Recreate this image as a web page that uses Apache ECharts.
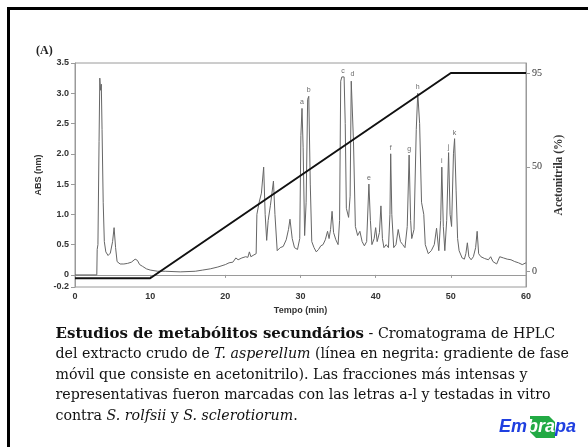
<!DOCTYPE html>
<html>
<head>
<meta charset="utf-8">
<script src="https://cdn.jsdelivr.net/npm/echarts@6/dist/echarts.min.js"></script>
<style>
html,body{margin:0;padding:0;background:#fff;}
#chart{width:588px;height:447px;}
</style>
</head>
<body>
<div id="chart"></div>
<script>
// Chromatogram trace (time in min, absorbance)
const timeMin = [0,2.9,2.95,3.05,3.2,3.3,3.4,3.5,3.6,3.75,3.9,4.1,4.4,4.7,5.0,5.2,5.4,5.6,6.0,6.5,7.0,7.5,8.0,8.3,8.6,9.0,9.5,10,11,12,14,16,17,18,19,20,20.5,21,21.4,21.7,22.2,22.7,23.0,23.2,23.4,23.8,24.1,24.2,24.5,24.8,25.1,25.3,25.5,25.7,26.0,26.4,26.6,26.9,27.3,27.7,28.1,28.4,28.6,28.9,29.2,29.6,29.9,30.05,30.2,30.35,30.55,30.75,30.95,31.1,31.3,31.5,31.8,32.1,32.4,32.7,33.0,33.3,33.6,33.8,34.0,34.2,34.4,34.7,35.0,35.2,35.35,35.5,35.8,35.95,36.1,36.4,36.6,36.75,36.9,37.05,37.3,37.6,37.9,38.2,38.5,38.8,39.1,39.3,39.5,39.8,40.0,40.2,40.5,40.7,40.9,41.1,41.4,41.7,41.9,42.0,42.15,42.4,42.7,43.0,43.3,43.6,43.9,44.2,44.45,44.65,44.8,45.1,45.4,45.6,45.85,46.1,46.4,46.6,47.0,47.4,47.8,48.1,48.4,48.65,48.8,49.0,49.2,49.45,49.7,49.9,50.1,50.35,50.5,50.7,50.9,51.1,51.5,51.8,52.0,52.2,52.4,52.7,53.0,53.3,53.5,53.7,54.0,54.5,55.0,55.3,55.6,56.1,56.5,57,57.5,58,58.5,59,59.5,60];
const absValues = [0,0,0.42,0.5,2.2,3.25,3.05,3.15,2.4,1.2,0.55,0.38,0.32,0.36,0.55,0.78,0.45,0.22,0.18,0.18,0.19,0.21,0.26,0.24,0.17,0.14,0.1,0.08,0.06,0.06,0.05,0.06,0.08,0.1,0.13,0.17,0.2,0.21,0.28,0.25,0.28,0.3,0.29,0.38,0.3,0.33,0.35,1.0,1.2,1.35,1.78,1.0,0.57,0.9,1.15,1.55,1.0,0.4,0.45,0.47,0.58,0.75,0.92,0.6,0.45,0.42,0.6,2.3,2.75,2.1,0.65,1.2,2.9,2.95,1.5,0.55,0.45,0.38,0.42,0.48,0.5,0.58,0.72,0.6,0.75,1.05,0.7,0.58,0.5,0.9,3.2,3.27,3.27,2.5,1.1,0.95,1.3,3.2,3.22,2.2,0.8,0.65,0.72,0.55,0.48,0.55,1.5,0.9,0.5,0.6,0.78,0.55,0.7,1.14,0.6,0.45,0.5,0.45,1.0,2.0,1.0,0.45,0.5,0.75,0.55,0.5,0.45,0.8,1.98,0.9,0.6,0.75,2.4,3.0,2.5,1.2,1.0,0.5,0.35,0.4,0.5,0.77,0.4,0.9,1.78,0.8,0.4,0.9,2.02,1.0,0.8,2.0,2.25,1.4,0.6,0.4,0.28,0.26,0.35,0.53,0.3,0.25,0.3,0.45,0.72,0.35,0.3,0.27,0.25,0.3,0.22,0.18,0.3,0.28,0.26,0.25,0.22,0.2,0.17,0.2];

// Acetonitrile gradient (time in min, %)
const gradientTime = [0,10,50,60];
const gradientPct = [-3.5,-3.5,95,95];

// Labelled fractions
const peakTime = [30.2,31.1,35.65,36.9,39.1,42.0,44.45,45.6,48.8,49.7,50.5];
const peakAbs = [2.75,2.95,3.27,3.22,1.5,2.0,1.98,3.0,1.78,2.02,2.25];
const peakLetters = ['a','b','c','d','e','f','g','h','i','j','k'];

// Tick values
const xTicks = [0,10,20,30,40,50,60];
const leftTicks = [-0.2,0,0.5,1.0,1.5,2.0,2.5,3.0,3.5];
const rightTicks = [0,50,95];

const traceData = timeMin.map((t,i)=>[t,absValues[i]]);
const gradData = gradientTime.map((t,i)=>[t,gradientPct[i]]);
const peakData = peakTime.map((t,i)=>[t,peakAbs[i]]);

const sansBold = {fontFamily:'Liberation Sans',fontWeight:'bold',fontSize:9,color:'#333'};
const serif = 'Liberation Serif';
const capFont = {fontFamily:'DejaVu Serif',fontSize:14.2,lineHeight:20.5,fill:'#111'};

const chart = echarts.init(document.getElementById('chart'),null,{renderer:'canvas'});
chart.setOption({
  animation:false,
  backgroundColor:'#fff',
  grid:{left:75,right:62,top:63,bottom:160,show:true,borderColor:'#9a9a9a',borderWidth:1},
  xAxis:{
    type:'value',min:0,max:60,interval:10,
    axisLine:{show:true,lineStyle:{color:'#9a9a9a',width:1}},
    axisTick:{show:true,length:3,lineStyle:{color:'#9a9a9a'}},
    splitLine:{show:false},
    axisLabel:Object.assign({margin:5,customValues:xTicks},sansBold),
    name:'Tempo (min)',nameLocation:'middle',nameGap:15,
    nameTextStyle:sansBold
  },
  yAxis:[{
    type:'value',min:-0.2,max:3.5,position:'left',
    axisLine:{show:true,lineStyle:{color:'#9a9a9a',width:1}},
    axisTick:{show:true,length:4,customValues:leftTicks,lineStyle:{color:'#9a9a9a'}},
    splitLine:{show:false},
    axisLabel:Object.assign({margin:6,customValues:leftTicks,
      formatter:v=>(Math.abs(v)<1e-9?'0':v.toFixed(1))},sansBold),
    name:'ABS (nm)',nameLocation:'middle',nameGap:26,nameRotate:90,
    nameTextStyle:sansBold
  },{
    type:'value',min:-7.7,max:99.8,position:'right',
    axisLine:{show:true,lineStyle:{color:'#9a9a9a',width:1}},
    axisTick:{show:true,length:4,customValues:rightTicks,lineStyle:{color:'#9a9a9a'}},
    splitLine:{show:false},
    axisLabel:{margin:6,customValues:rightTicks,fontFamily:serif,fontSize:10,color:'#333'},
    name:'Acetonitrila (%)',nameLocation:'middle',nameGap:24,nameRotate:90,
    nameTextStyle:{fontFamily:serif,fontWeight:'bold',fontSize:11.5,color:'#333'}
  }],
  series:[{
    type:'line',data:traceData,yAxisIndex:0,showSymbol:false,symbol:'none',
    lineStyle:{color:'#666',width:1},z:2
  },{
    type:'line',data:gradData,yAxisIndex:1,showSymbol:false,symbol:'none',
    lineStyle:{color:'#111',width:2},z:3
  },{
    type:'scatter',data:peakData,yAxisIndex:0,symbolSize:1,
    itemStyle:{color:'rgba(0,0,0,0)'},
    label:{show:true,position:'top',distance:2,fontSize:7,fontFamily:'Liberation Sans',color:'#444',
      formatter:p=>peakLetters[p.dataIndex]},
    z:4
  }],
  graphic:[
    {type:'rect',shape:{x:8.5,y:8.5,width:700,height:700},style:{fill:'none',stroke:'#000',lineWidth:3},silent:true},
    {type:'text',x:36,y:45,style:{text:'(A)',fontFamily:serif,fontWeight:'bold',fontSize:12,fill:'#222'}},
    {type:'text',x:55.5,y:324,style:Object.assign({
      text:'{b|Estudios de metabólitos secundários} - Cromatograma de HPLC\n'+
           'del extracto crudo de {i|T. asperellum} (línea en negrita: gradiente de fase\n'+
           'móvil que consiste en acetonitrilo). Las fracciones más intensas y\n'+
           'representativas fueron marcadas con las letras a-l y testadas in vitro\n'+
           'contra {i|S. rolfsii} y {i|S. sclerotiorum}.',
      rich:{
        b:Object.assign({},capFont,{fontWeight:'bold',fontSize:15}),
        i:Object.assign({fontStyle:'italic'},capFont)
      }},capFont)},
    {type:'polygon',shape:{points:[[530,416],[549,416],[555,422],[555,438],[536,438],[530,432]]},style:{fill:'#22aa44'}},
    {type:'text',x:499,y:418,style:{
      text:'{e|Em}{w|bra}{e|pa}',
      rich:{
        e:{fontFamily:'Liberation Sans',fontWeight:'bold',fontStyle:'italic',fontSize:18,fill:'#1f3fe0'},
        w:{fontFamily:'Liberation Sans',fontWeight:'bold',fontStyle:'italic',fontSize:18,fill:'#ffffff'}
      }}}
  ]
});
</script>
</body>
</html>
